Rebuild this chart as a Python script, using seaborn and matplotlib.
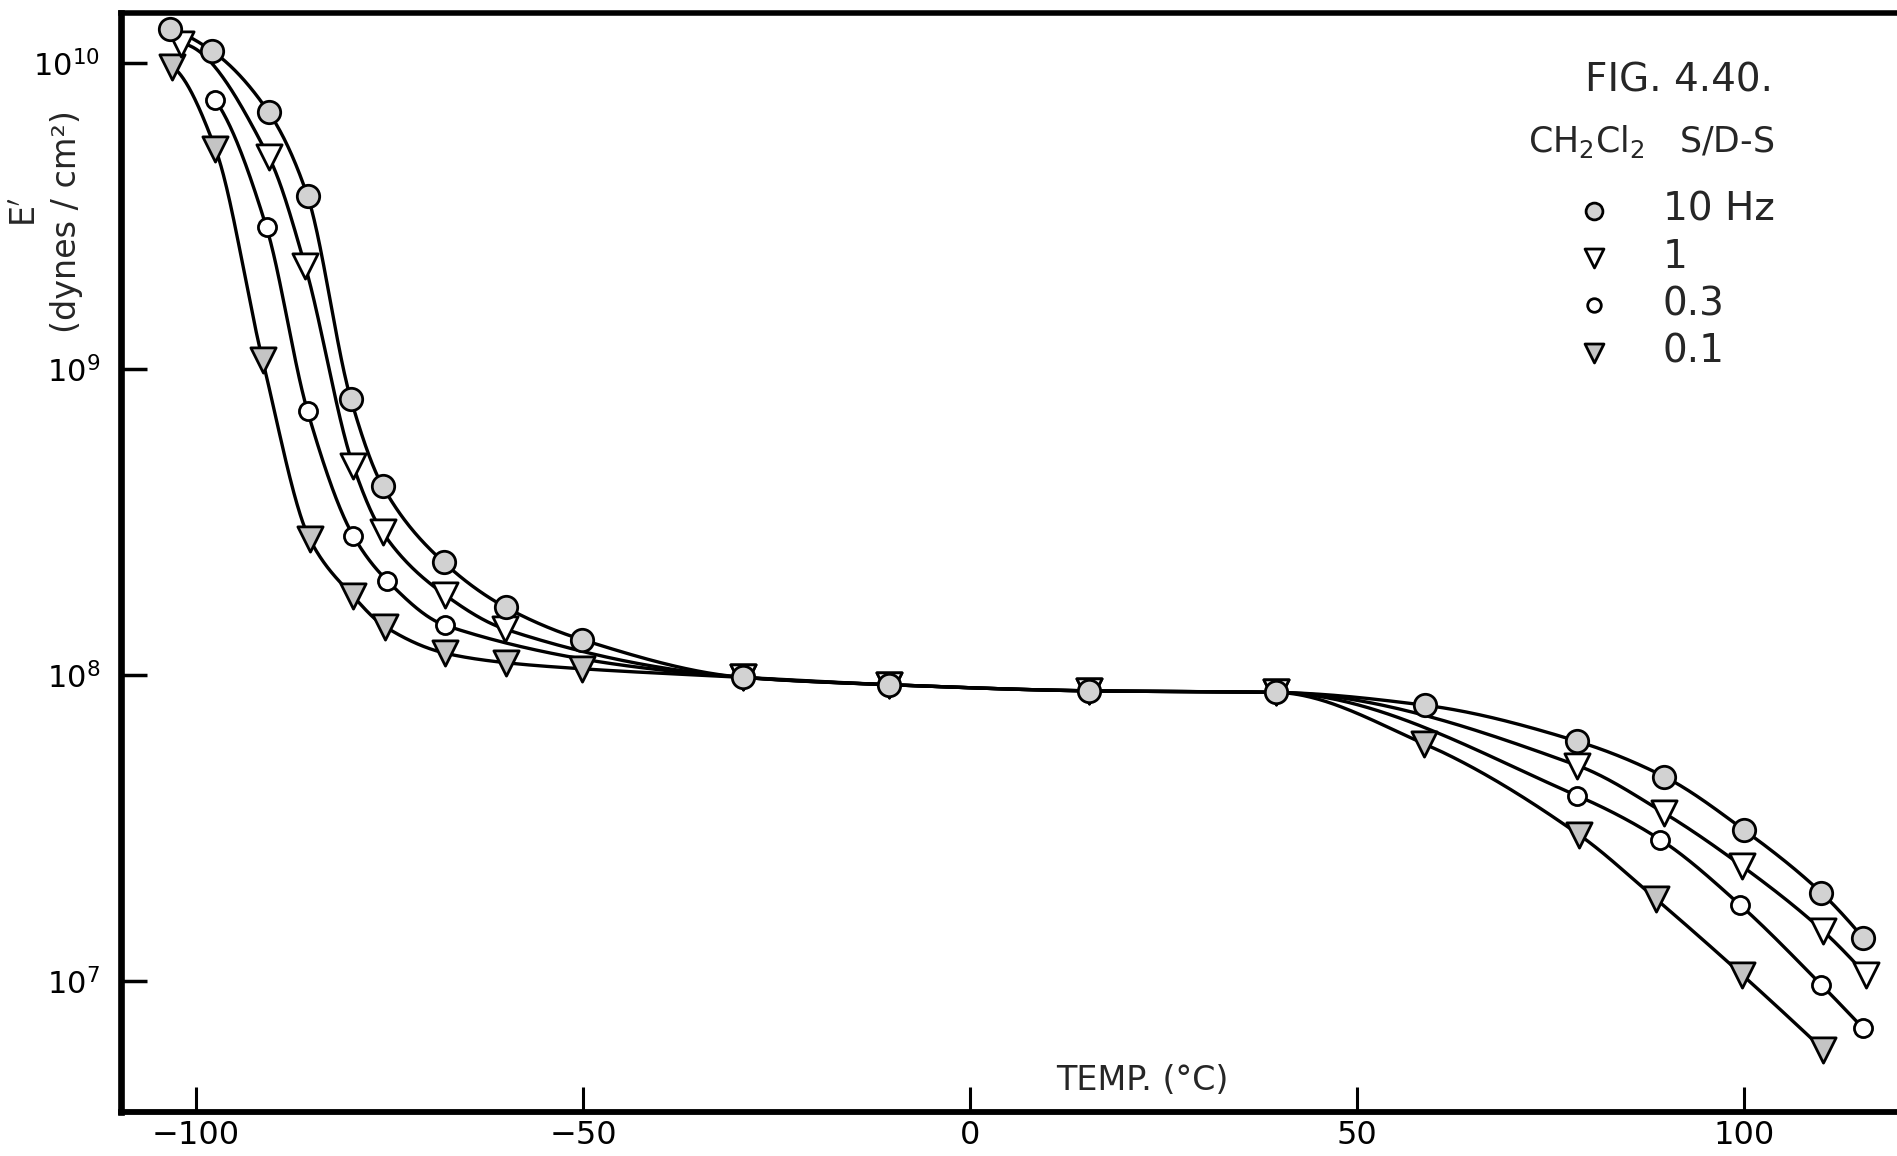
import numpy as np
import pandas as pd
import matplotlib
matplotlib.use("Agg")
import matplotlib.pyplot as plt
import seaborn as sns

# Storage modulus E' (dynes/cm^2) versus temperature (deg C), CH2Cl2 S/D-S
# log10(E') is stored for each frequency.
temp_10hz = [-103.4, -98.0, -90.6, -85.6, -80.0, -75.9, -68.0, -60.0, -50.1,
             -29.3, -10.4, 15.4, 39.5, 58.8, 78.5, 89.7, 100.0, 110.0, 115.4]
loge_10hz = [10.111, 10.040, 9.838, 9.565, 8.901, 8.617, 8.368, 8.221, 8.115,
             7.992, 7.968, 7.948, 7.943, 7.901, 7.783, 7.668, 7.494, 7.289, 7.142]

temp_1hz = [-101.9, -90.6, -85.9, -79.7, -75.9, -67.8, -60.1,
            -29.3, -10.4, 15.4, 39.5, 78.5, 89.7, 99.8, 110.3, 115.8]
loge_1hz = [10.063, 9.692, 9.336, 8.684, 8.466, 8.261, 8.150,
            7.992, 7.968, 7.948, 7.943, 7.704, 7.549, 7.375, 7.162, 7.020]

temp_03hz = [-97.5, -90.9, -85.6, -79.7, -75.3, -67.8,
             -29.3, -10.4, 15.4, 39.5, 78.5, 89.2, 99.5, 110.0, 115.4]
loge_03hz = [9.877, 9.462, 8.862, 8.455, 8.308, 8.162,
             7.992, 7.968, 7.948, 7.943, 7.605, 7.462, 7.249, 6.988, 6.846]

temp_01hz = [-103.1, -97.5, -91.4, -85.3, -79.7, -75.6, -67.8, -60.0, -50.1,
             -29.3, -10.4, 15.4, 39.5, 58.7, 78.7, 88.6, 99.8, 110.3]
loge_01hz = [9.988, 9.719, 9.028, 8.443, 8.257, 8.158, 8.071, 8.040, 8.020,
             7.992, 7.968, 7.948, 7.943, 7.775, 7.478, 7.269, 7.020, 6.775]

freq_labels = ["10 Hz", "1", "0.3", "0.1"]
x_ticks = [-100, -50, 0, 50, 100]
y_ticks = [1e7, 1e8, 1e9, 1e10]
y_ticklabels = ["$10^{7}$", "$10^{8}$", "$10^{9}$", "$10^{10}$"]


def pchip_curve(x, y, n=60):
    """Monotone (Fritsch-Carlson) cubic through the points, sampled densely."""
    x = np.asarray(x, float)
    y = np.asarray(y, float)
    h = np.diff(x)
    d = np.diff(y) / h
    m = np.zeros_like(y)
    for k in range(1, len(x) - 1):
        if d[k - 1] * d[k] > 0:
            w1 = 2 * h[k] + h[k - 1]
            w2 = h[k] + 2 * h[k - 1]
            m[k] = (w1 + w2) / (w1 / d[k - 1] + w2 / d[k])

    def end_slope(h0, h1, d0, d1):
        s = ((2 * h0 + h1) * d0 - h0 * d1) / (h0 + h1)
        if np.sign(s) != np.sign(d0):
            return 0.0
        if np.sign(d0) != np.sign(d1) and abs(s) > abs(3 * d0):
            return 3 * d0
        return s

    m[0] = end_slope(h[0], h[1], d[0], d[1])
    m[-1] = end_slope(h[-1], h[-2], d[-1], d[-2])
    xs, ys = [], []
    for k in range(len(x) - 1):
        t = np.linspace(0, 1, n)
        if k < len(x) - 2:
            t = t[:-1]
        h00 = 2 * t**3 - 3 * t**2 + 1
        h10 = t**3 - 2 * t**2 + t
        h01 = -2 * t**3 + 3 * t**2
        h11 = t**3 - t**2
        xs.append(x[k] + t * h[k])
        ys.append(h00 * y[k] + h10 * h[k] * m[k] + h01 * y[k + 1]
                  + h11 * h[k] * m[k + 1])
    return np.concatenate(xs), 10 ** np.concatenate(ys)


sns.set_theme(style="ticks")
plt.rcParams["font.family"] = ["DejaVu Sans"]
plt.rcParams["mathtext.fontset"] = "dejavusans"

fig = plt.figure(figsize=(18.97, 11.56), dpi=100)
ax = fig.add_axes([0.0638, 0.0381, 0.9362, 0.9507])

series = [
    (temp_01hz, loge_01hz, "v", "#c4c4c4", 330, freq_labels[3]),
    (temp_03hz, loge_03hz, "o", "white", 170, freq_labels[2]),
    (temp_1hz, loge_1hz, "v", "white", 330, freq_labels[1]),
    (temp_10hz, loge_10hz, "o", "#d2d2d2", 260, freq_labels[0]),
]

for t, le, mk, fc, s, lab in series:
    xs, ys = pchip_curve(t, le)
    sns.lineplot(x=xs, y=ys, sort=False, estimator=None, color="black",
                 linewidth=2.4, ax=ax, zorder=2)
    df = pd.DataFrame({"T": t, "E": 10 ** np.asarray(le)})
    sns.scatterplot(data=df, x="T", y="E", marker=mk, s=s, color=fc,
                    edgecolor="black", linewidth=2.0, ax=ax, zorder=3,
                    label=lab)

ax.set_yscale("log")
ax.set_xlim(-109.7, 119.8)
ax.set_ylim(10 ** 6.572, 10 ** 10.163)
ax.set_xticks(x_ticks)
ax.set_yticks(y_ticks)
ax.set_yticklabels(y_ticklabels)
ax.minorticks_off()
ax.tick_params(axis="x", direction="in", length=18, width=2.2, pad=6,
               labelsize=23, colors="black")
ax.tick_params(axis="y", direction="in", length=19, width=2.5, pad=15,
               labelsize=22, colors="black")
ax.set_xlabel("")
ax.set_ylabel("")
ax.spines["left"].set_linewidth(4.8)
ax.spines["bottom"].set_linewidth(4.2)
ax.spines["top"].set_linewidth(4.0)
for side in ["left", "bottom", "top"]:
    ax.spines[side].set_color("black")
ax.spines["right"].set_visible(False)

# Axis titles
ax.text(0.575, 0.029, "TEMP. (°C)", transform=ax.transAxes, fontsize=24,
        ha="center", va="center")
fig.text(0.014, 0.816, "E$^{\\prime}$", rotation=90, fontsize=24,
         ha="center", va="center")
fig.text(0.035, 0.808, "(dynes / cm²)", rotation=90, fontsize=24,
         ha="center", va="center")

# Figure caption and key
fig.text(0.885, 0.930, "FIG. 4.40.", fontsize=28, ha="center", va="center")
fig.text(0.8705, 0.8776, "CH$_2$Cl$_2$   S/D-S", fontsize=25,
         ha="center", va="center")

h, l = ax.get_legend_handles_labels()
order = [l.index(name) for name in freq_labels]
ax.legend([h[i] for i in order], [l[i] for i in order], loc="upper left",
          bbox_to_anchor=(0.830, 0.835), bbox_transform=fig.transFigure,
          frameon=False, fontsize=28, handlelength=1.0, handletextpad=1.27,
          labelspacing=0.24, borderpad=0, borderaxespad=0, scatterpoints=1,
          markerscale=0.75)

fig.savefig("out.png", dpi=100)
